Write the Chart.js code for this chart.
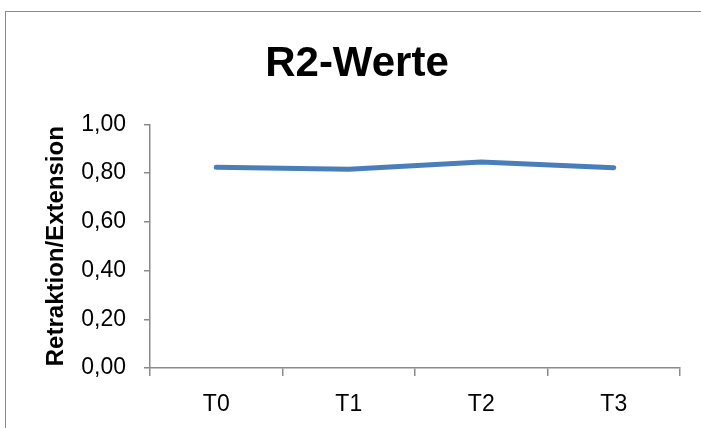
<!DOCTYPE html>
<html>
<head>
<meta charset="utf-8">
<script src="https://cdn.jsdelivr.net/npm/chart.js@4.4.0/dist/chart.umd.min.js"></script>
<style>
  html, body { margin: 0; padding: 0; background: #fff; overflow: hidden; }
  #wrap { position: relative; width: 701px; height: 428px; }
  #frame {
    position: absolute; left: 5px; top: 11px; width: 1000px; height: 1000px;
    border-left: 1.5px solid #8a8a8a; border-top: 1.5px solid #8a8a8a;
  }
  canvas { position: absolute; left: 0; top: 0; }
</style>
</head>
<body>
<div id="wrap">
  <div id="frame"></div>
  <canvas id="chartR2" width="701" height="428"></canvas>
</div>
<script>
const categories = ["T0", "T1", "T2", "T3"];
const r2Values = [0.824, 0.816, 0.846, 0.822];
const yTickLabels = ["0,00", "0,20", "0,40", "0,60", "0,80", "1,00"];

const axisGray = "#8a8a8a";
const fontFamily = "'Liberation Sans', Arial, sans-serif";

const chartR2 = document.getElementById("chartR2");

new Chart(chartR2, {
  type: "line",
  data: {
    labels: categories,
    datasets: [
      {
        label: "R2",
        data: r2Values,
        borderColor: "#4a7ebb",
        borderWidth: 5,
        borderCapStyle: "round",
        borderJoinStyle: "round",
        pointRadius: 0,
        tension: 0,
        fill: false,
      },
    ],
  },
  options: {
    responsive: false,
    animation: false,
    devicePixelRatio: 1,
    layout: { padding: { left: 34, right: 21, top: 0, bottom: 0 } },
    plugins: {
      legend: { display: false },
      tooltip: { enabled: false },
      title: {
        display: true,
        text: "R2-Werte",
        color: "#000",
        font: { family: fontFamily, size: 42, weight: "bold" },
        padding: { top: 39, bottom: 35 },
      },
    },
    scales: {
      x: {
        offset: true,
        grid: {
          offset: true,
          drawOnChartArea: false,
          drawTicks: true,
          tickLength: 8,
          color: axisGray,
          lineWidth: 1.5,
        },
        border: { color: axisGray, width: 1.5 },
        ticks: {
          color: "#000",
          padding: 15,
          font: { family: fontFamily, size: 23 },
        },
        afterFit: (scale) => {
          scale.height = 60;
        },
      },
      y: {
        min: 0,
        max: 1,
        ticks: {
          stepSize: 0.2,
          color: "#000",
          padding: 18,
          font: { family: fontFamily, size: 23 },
          callback: (value, index) => yTickLabels[index],
        },
        grid: {
          drawOnChartArea: false,
          drawTicks: true,
          tickLength: 6,
          color: axisGray,
          lineWidth: 1.5,
        },
        border: { color: axisGray, width: 1.5 },
        title: {
          display: true,
          text: "Retraktion/Extension",
          color: "#000",
          font: { family: fontFamily, size: 24, weight: "bold" },
          padding: { top: 8, bottom: 0 },
        },
        afterFit: (scale) => {
          scale.width = 116;
        },
      },
    },
  },
});
</script>
</body>
</html>
